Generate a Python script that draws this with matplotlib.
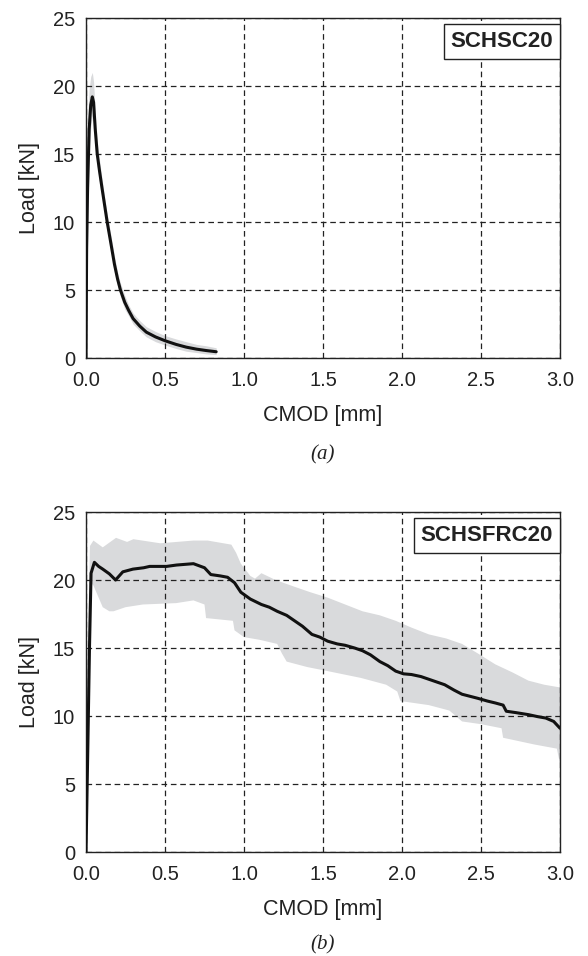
import matplotlib
matplotlib.use("Agg")
import matplotlib.pyplot as plt

# ---------------- data ----------------
# Panel (a) SCHSC20
a_cmod = [0.000, 0.004, 0.010, 0.020, 0.030, 0.040, 0.048, 0.058, 0.071, 0.085, 0.100, 0.117,
          0.134, 0.155, 0.180, 0.200, 0.218, 0.245, 0.270, 0.298, 0.340, 0.382, 0.440, 0.500,
          0.570, 0.634, 0.700, 0.760, 0.824]
a_mean = [0.0, 8.1, 12.5, 16.8, 18.6, 19.2, 18.8, 16.9, 15.0, 13.8, 12.6, 11.3,
          10.0, 8.6, 6.9, 5.8, 5.0, 4.1, 3.5, 2.9, 2.35, 1.9, 1.55, 1.27,
          1.0, 0.8, 0.65, 0.55, 0.46]
a_upper = [0.0, 15.0, 17.5, 19.8, 20.7, 21.0, 20.3, 18.2, 16.0, 14.6, 13.3, 11.9,
           10.6, 9.2, 7.5, 6.3, 5.5, 4.6, 3.9, 3.3, 2.75, 2.3, 1.95, 1.65,
           1.4, 1.2, 1.0, 0.9, 0.75]
a_lower = [0.0, 2.0, 8.0, 14.5, 17.0, 17.8, 17.5, 15.8, 14.1, 13.0, 11.9, 10.7,
           9.4, 8.0, 6.3, 5.3, 4.5, 3.6, 3.1, 2.5, 2.0, 1.55, 1.2, 0.95,
           0.7, 0.5, 0.4, 0.3, 0.25]

# Panel (b) SCHSFRC20
b_cmod = [0.0, 0.012, 0.022, 0.032, 0.053, 0.080, 0.106, 0.148, 0.187, 0.233, 0.297, 0.365,
          0.403, 0.510, 0.573, 0.680, 0.750, 0.790, 0.850, 0.896, 0.940, 0.980, 1.040, 1.110,
          1.160, 1.210, 1.270, 1.320, 1.370, 1.430, 1.480, 1.530, 1.590, 1.640, 1.700, 1.750,
          1.800, 1.860, 1.910, 1.960, 2.010, 2.060, 2.120, 2.170, 2.220, 2.270, 2.330, 2.380,
          2.430, 2.480, 2.540, 2.590, 2.640, 2.660, 2.720, 2.800, 2.860, 2.910, 2.960, 3.000]
b_mean = [0.0, 8.0, 15.0, 20.5, 21.3, 21.0, 20.8, 20.45, 20.0, 20.6, 20.8, 20.9,
          21.0, 21.0, 21.1, 21.2, 20.9, 20.4, 20.3, 20.2, 19.8, 19.1, 18.6, 18.2,
          18.0, 17.7, 17.4, 17.0, 16.6, 16.0, 15.8, 15.5, 15.3, 15.2, 15.0, 14.8,
          14.5, 14.0, 13.7, 13.3, 13.1, 13.05, 12.9, 12.7, 12.5, 12.3, 11.9, 11.6,
          11.45, 11.3, 11.1, 10.96, 10.8, 10.35, 10.25, 10.1, 9.95, 9.85, 9.6, 9.1]
bu_cmod = [0.0, 0.010, 0.025, 0.047, 0.106, 0.19, 0.26, 0.30, 0.47, 0.68, 0.77, 0.92,
           0.95, 0.98, 1.04, 1.07, 1.11, 1.2, 1.32, 1.42, 1.53, 1.64, 1.75, 1.86,
           1.96, 2.06, 2.17, 2.28, 2.38, 2.48, 2.59, 2.7, 2.8, 2.9, 3.0]
bu_load = [0.0, 14.0, 22.5, 22.9, 22.4, 23.1, 22.8, 23.0, 22.7, 22.9, 22.9, 22.6,
           22.0, 21.2, 20.3, 20.1, 20.5, 20.0, 19.5, 19.1, 18.7, 18.2, 17.7, 17.4,
           17.0, 16.5, 16.0, 15.7, 15.3, 14.6, 13.8, 13.2, 12.6, 12.3, 12.1]
bl_cmod = [0.0, 0.012, 0.03, 0.047, 0.106, 0.148, 0.174, 0.25, 0.36, 0.57, 0.68, 0.75,
           0.76, 0.93, 0.94, 1.0, 1.1, 1.21, 1.24, 1.27, 1.4, 1.53, 1.74, 1.9,
           1.97, 1.99, 2.17, 2.3, 2.38, 2.5, 2.63, 2.64, 2.84, 2.98, 3.0]
bl_load = [0.0, 6.0, 19.8, 19.6, 18.0, 17.7, 17.7, 18.0, 18.2, 18.3, 18.5, 18.2,
           17.2, 17.0, 16.3, 15.8, 15.6, 15.3, 14.6, 14.0, 13.6, 13.3, 12.8, 12.3,
           11.8, 11.1, 10.8, 10.4, 9.6, 9.4, 9.1, 8.4, 7.9, 7.6, 6.5]

x_ticks = [0.0, 0.5, 1.0, 1.5, 2.0, 2.5, 3.0]
x_ticklabels = ["0.0", "0.5", "1.0", "1.5", "2.0", "2.5", "3.0"]
y_ticks = [0, 5, 10, 15, 20, 25]
specimens = ["SCHSC20", "SCHSFRC20"]
captions = ["(a)", "(b)"]

# ---------------- style ----------------
plt.rcParams['font.family'] = ['Liberation Sans', 'DejaVu Sans']
BAND = '#d9dadc'
W, H = 588, 956
fig = plt.figure(figsize=(W / 100, H / 100), dpi=100)

def px_axes(left, top, right, bottom):
    return fig.add_axes([left / W, 1 - bottom / H, (right - left) / W, (bottom - top) / H])

ax_a = px_axes(86, 18, 560, 358)
ax_b = px_axes(86, 512, 560, 852)

def style(ax, name):
    ax.set_xlim(0, 3.0)
    ax.set_ylim(0, 25)
    ax.set_xticks(x_ticks)
    ax.set_xticklabels(x_ticklabels)
    ax.set_yticks(y_ticks)
    ax.tick_params(axis='x', length=0, labelsize=14.5, pad=9, colors='#222222')
    ax.tick_params(axis='y', length=0, labelsize=14.5, pad=8, colors='#222222')
    ax.grid(True, color='#222222', linestyle=(0, (4.5, 3)), linewidth=0.9)
    ax.set_axisbelow(False)
    for s in ax.spines.values():
        s.set_color('#222222')
        s.set_linewidth(1.0)
    ax.set_xlabel("CMOD [mm]", fontsize=15.5, labelpad=11, color='#222222')
    ax.set_ylabel("Load [kN]", fontsize=15.5, labelpad=9, color='#222222')
    ax.text(0.985, 0.962, name, transform=ax.transAxes, ha='right', va='top',
            fontsize=16, fontweight='bold', color='#222222', zorder=5,
            bbox=dict(boxstyle='square,pad=0.3', fc='white', ec='#222222', lw=1.0))

# panel a
ax_a.fill_between(a_cmod, a_lower, a_upper, color=BAND, lw=0, zorder=1)
ax_a.plot(a_cmod, a_mean, color='#111111', lw=2.2, zorder=3, solid_capstyle='round')
style(ax_a, specimens[0])

# panel b
ax_b.fill(bu_cmod + bl_cmod[::-1], bu_load + bl_load[::-1], color=BAND, lw=0, zorder=1)
ax_b.plot(b_cmod, b_mean, color='#111111', lw=2.2, zorder=3, solid_capstyle='round')
style(ax_b, specimens[1])

cap_kw = dict(ha='center', va='center', fontsize=15, style='italic',
              family=['Liberation Serif', 'DejaVu Serif'], color='#222222')
fig.text(323 / W, 1 - 455 / H, captions[0], **cap_kw)
fig.text(323 / W, 1 - 945 / H, captions[1], **cap_kw)

fig.savefig("out.png", dpi=100)
